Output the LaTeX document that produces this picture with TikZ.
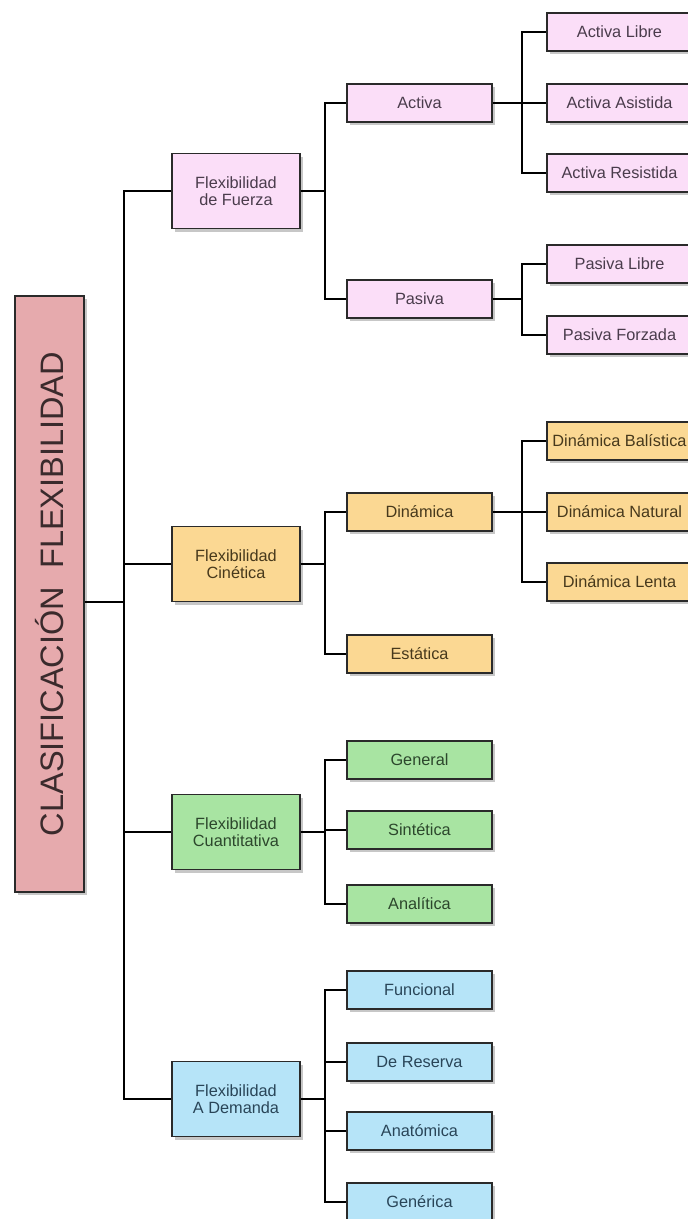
\documentclass[tikz,border=0pt]{standalone}
\usepackage{fontspec}
\usepackage{graphicx}
\setmainfont{Liberation Sans}
\usetikzlibrary{shadows}
\definecolor{rootfill}{HTML}{E6AAAD}
\definecolor{pinkfill}{HTML}{FBDEF8}
\definecolor{orangefill}{HTML}{FBD893}
\definecolor{greenfill}{HTML}{A8E4A2}
\definecolor{bluefill}{HTML}{B6E4F8}
\definecolor{boxline}{HTML}{2A2A2A}
\definecolor{roottext}{HTML}{3A2A2C}
\definecolor{pinktext}{HTML}{4A3C4C}
\definecolor{orangetext}{HTML}{47391C}
\definecolor{greentext}{HTML}{2C472C}
\definecolor{bluetext}{HTML}{294558}
\begin{document}
\begin{tikzpicture}[x=1pt,y=-1pt,
  box/.style={draw=boxline, line width=1.6pt, inner sep=0pt, align=center,
    drop shadow={shadow xshift=3pt, shadow yshift=-3pt, fill=black, opacity=0.22},
    font=\fontsize{16.3}{17.5}\selectfont},
  lvltwo/.style={box, minimum width=128pt, minimum height=75pt},
  lvlthree/.style={box, minimum width=145pt, minimum height=38pt},
  pinkbox/.style={fill=pinkfill, text=pinktext},
  orangebox/.style={fill=orangefill, text=orangetext},
  greenbox/.style={fill=greenfill, text=greentext},
  bluebox/.style={fill=bluefill, text=bluetext},
  conn/.style={draw=black, line width=1.6pt}]
\useasboundingbox (0,0) rectangle (688,1219);
\fill[white] (0,0) rectangle (688,1219);
\clip (0,0) rectangle (688,1219);

% root
\node[box, fill=rootfill, text=roottext, minimum width=69pt, minimum height=596pt,
  font=\fontsize{32.5}{34}\selectfont] (root) at (49.5,594)
  {\rotatebox{90}{CLASIFICACI\'ON\ \ FLEXIBILIDAD}};

% junction x positions
\coordinate (jone) at (124,602);
\coordinate (jtwo) at (325,0);
\coordinate (jthree) at (522,0);

% level 2
\node[lvltwo, pinkbox] (fuerza) at (236,191) {Flexibilidad\\de Fuerza};
\node[lvltwo, orangebox] (cinetica) at (236,564) {Flexibilidad\\Cin\'etica};
\node[lvltwo, greenbox] (cuant) at (236,832) {Flexibilidad\\Cuantitativa};
\node[lvltwo, bluebox] (demanda) at (236,1099) {Flexibilidad\\A Demanda};

% level 3
\node[lvlthree, pinkbox] (activa) at (419.5,103) {Activa};
\node[lvlthree, pinkbox] (pasiva) at (419.5,299) {Pasiva};
\node[lvlthree, orangebox] (dinamica) at (419.5,512) {Din\'amica};
\node[lvlthree, orangebox] (estatica) at (419.5,654) {Est\'atica};
\node[lvlthree, greenbox] (general) at (419.5,760) {General};
\node[lvlthree, greenbox] (sintetica) at (419.5,830) {Sint\'etica};
\node[lvlthree, greenbox] (analitica) at (419.5,904) {Anal\'itica};
\node[lvlthree, bluebox] (funcional) at (419.5,990) {Funcional};
\node[lvlthree, bluebox] (reserva) at (419.5,1062) {De Reserva};
\node[lvlthree, bluebox] (anatomica) at (419.5,1131) {Anat\'omica};
\node[lvlthree, bluebox] (generica) at (419.5,1202) {Gen\'erica};

% level 4
\node[lvlthree, pinkbox] (alibre) at (619.5,32) {Activa Libre};
\node[lvlthree, pinkbox] (asistida) at (619.5,103) {Activa Asistida};
\node[lvlthree, pinkbox] (resistida) at (619.5,173) {Activa Resistida};
\node[lvlthree, pinkbox] (plibre) at (619.5,264) {Pasiva Libre};
\node[lvlthree, pinkbox] (forzada) at (619.5,335) {Pasiva Forzada};
\node[lvlthree, orangebox] (balistica) at (619.5,441) {Din\'amica Bal\'istica};
\node[lvlthree, orangebox] (natural) at (619.5,512) {Din\'amica Natural};
\node[lvlthree, orangebox] (lenta) at (619.5,582) {Din\'amica Lenta};

% connectors: root to level 2
\draw[conn] (jone -| root.east) -- (jone);
\draw[conn] (fuerza.west) -- (fuerza.west -| jone) -- (demanda.west -| jone) -- (demanda.west);
\draw[conn] (cinetica.west) -- (cinetica.west -| jone);
\draw[conn] (cuant.west) -- (cuant.west -| jone);

% level 2 to level 3
\draw[conn] (fuerza.east) -- (fuerza.east -| jtwo);
\draw[conn] (activa.west) -- (activa.west -| jtwo) -- (pasiva.west -| jtwo) -- (pasiva.west);
\draw[conn] (cinetica.east) -- (cinetica.east -| jtwo);
\draw[conn] (dinamica.west) -- (dinamica.west -| jtwo) -- (estatica.west -| jtwo) -- (estatica.west);
\draw[conn] (cuant.east) -- (cuant.east -| jtwo);
\draw[conn] (general.west) -- (general.west -| jtwo) -- (analitica.west -| jtwo) -- (analitica.west);
\draw[conn] (sintetica.west) -- (sintetica.west -| jtwo);
\draw[conn] (demanda.east) -- (demanda.east -| jtwo);
\draw[conn] (funcional.west) -- (funcional.west -| jtwo) -- (generica.west -| jtwo) -- (generica.west);
\draw[conn] (reserva.west) -- (reserva.west -| jtwo);
\draw[conn] (anatomica.west) -- (anatomica.west -| jtwo);

% level 3 to level 4
\draw[conn] (activa.east) -- (activa.east -| jthree);
\draw[conn] (alibre.west) -- (alibre.west -| jthree) -- (resistida.west -| jthree) -- (resistida.west);
\draw[conn] (asistida.west) -- (asistida.west -| jthree);
\draw[conn] (pasiva.east) -- (pasiva.east -| jthree);
\draw[conn] (plibre.west) -- (plibre.west -| jthree) -- (forzada.west -| jthree) -- (forzada.west);
\draw[conn] (dinamica.east) -- (dinamica.east -| jthree);
\draw[conn] (balistica.west) -- (balistica.west -| jthree) -- (lenta.west -| jthree) -- (lenta.west);
\draw[conn] (natural.west) -- (natural.west -| jthree);
\end{tikzpicture}
\end{document}
